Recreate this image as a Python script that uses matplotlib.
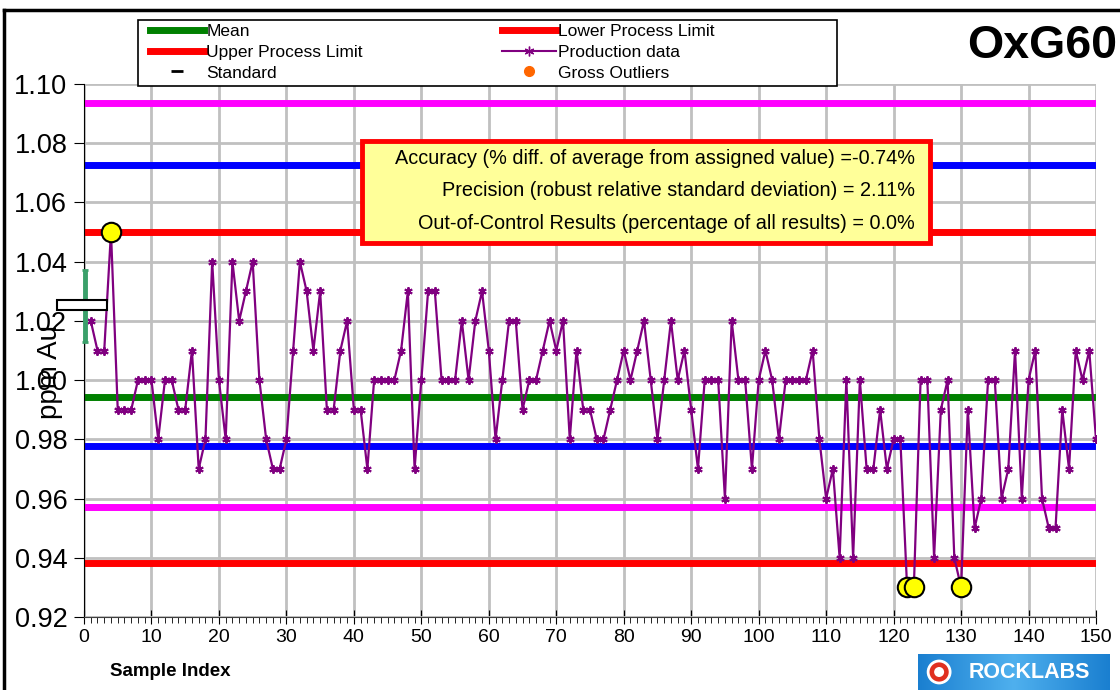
import matplotlib
matplotlib.use("Agg")
import matplotlib.pyplot as plt
from matplotlib.lines import Line2D
from matplotlib.patches import Rectangle, Ellipse
import numpy as np

plt.rcParams['font.family'] = ['Liberation Sans', 'DejaVu Sans']

# ---------------- data ----------------
production = [
    1.02, 1.01, 1.01, 1.05, 0.99, 0.99, 0.99, 1.00, 1.00, 1.00,
    0.98, 1.00, 1.00, 0.99, 0.99, 1.01, 0.97, 0.98, 1.04, 1.00,
    0.98, 1.04, 1.02, 1.03, 1.04, 1.00, 0.98, 0.97, 0.97, 0.98,
    1.01, 1.04, 1.03, 1.01, 1.03, 0.99, 0.99, 1.01, 1.02, 0.99,
    0.99, 0.97, 1.00, 1.00, 1.00, 1.00, 1.01, 1.03, 0.97, 1.00,
    1.03, 1.03, 1.00, 1.00, 1.00, 1.02, 1.00, 1.02, 1.03, 1.01,
    0.98, 1.00, 1.02, 1.02, 0.99, 1.00, 1.00, 1.01, 1.02, 1.01,
    1.02, 0.98, 1.01, 0.99, 0.99, 0.98, 0.98, 0.99, 1.00, 1.01,
    1.00, 1.01, 1.02, 1.00, 0.98, 1.00, 1.02, 1.00, 1.01, 0.99,
    0.97, 1.00, 1.00, 1.00, 0.96, 1.02, 1.00, 1.00, 0.97, 1.00,
    1.01, 1.00, 0.98, 1.00, 1.00, 1.00, 1.00, 1.01, 0.98, 0.96,
    0.97, 0.94, 1.00, 0.94, 1.00, 0.97, 0.97, 0.99, 0.97, 0.98,
    0.98, 0.93, 0.93, 1.00, 1.00, 0.94, 0.99, 1.00, 0.94, 0.93,
    0.99, 0.95, 0.96, 1.00, 1.00, 0.96, 0.97, 1.01, 0.96, 1.00,
    1.01, 0.96, 0.95, 0.95, 0.99, 0.97, 1.01, 1.00, 1.01, 0.98,
]
sample_index = list(range(1, len(production) + 1))

outlier_index = [4, 122, 123, 130]
outlier_values = [1.05, 0.93, 0.93, 0.93]

mean_value = 0.9943
upper_process_limit = 1.050
lower_process_limit = 0.9382
upper_3sd = 1.0936
lower_3sd = 0.9571
upper_2sd = 1.0727
lower_2sd = 0.9777

standard_value = 1.0255
standard_low = 1.0129
standard_high = 1.0372

stats_lines = [
    "Accuracy (% diff. of average from assigned value) =-0.74%",
    "Precision (robust relative standard deviation) = 2.11%",
    "Out-of-Control Results (percentage of all results) = 0.0%",
]

W, H = 1120, 690

def fx(px):
    return px / W

def fy(py):
    return 1 - py / H

# ---------------- figure ----------------
fig = plt.figure(figsize=(11.2, 6.9), dpi=100)
ax = fig.add_axes([fx(84), fy(617), (1096 - 84) / W, (617 - 84) / H])

ax.set_xlim(0, 150)
ax.set_ylim(0.92, 1.10)
ax.set_xticks(np.arange(0, 151, 10))
ax.set_xticks(np.arange(0, 151, 1), minor=True)
ax.set_yticks(np.arange(0.92, 1.1001, 0.02))
ax.yaxis.set_major_formatter(matplotlib.ticker.FormatStrFormatter('%.2f'))
ax.grid(True, which='major', color='#c0c0c0', linewidth=2)
ax.set_axisbelow(True)
for s in ['top', 'right']:
    ax.spines[s].set_visible(False)
ax.spines['left'].set_color('black')
ax.spines['bottom'].set_color('#404040')
ax.tick_params(axis='y', labelsize=19.5, direction='out', length=7, pad=5)
ax.tick_params(axis='x', which='major', labelsize=14, direction='inout', length=10)
ax.tick_params(axis='x', which='minor', direction='out', length=4)

lw = 5
ax.axhline(upper_3sd, color='#ff00ff', lw=lw, zorder=2)
ax.axhline(lower_3sd, color='#ff00ff', lw=lw, zorder=2)
ax.axhline(upper_2sd, color='#0000ff', lw=lw, zorder=2)
ax.axhline(lower_2sd, color='#0000ff', lw=lw, zorder=2)
ax.axhline(upper_process_limit, color='#ff0000', lw=lw, zorder=2)
ax.axhline(lower_process_limit, color='#ff0000', lw=lw, zorder=2)
ax.axhline(mean_value, color='#008000', lw=lw, zorder=2)

ax.plot(sample_index, production, color='#800080', lw=1.6,
        marker=(6, 2, 0), markersize=6, markeredgewidth=1.4, zorder=4)

ax.plot(outlier_index, outlier_values, linestyle='none', marker='o',
        markersize=14, markerfacecolor='#ffff00', markeredgecolor='black',
        markeredgewidth=1.5, zorder=5, clip_on=False)

# standard
ax.errorbar([0.2], [standard_value],
            yerr=[[standard_value - standard_low], [standard_high - standard_value]],
            fmt='none', ecolor='#3aa06a', elinewidth=3.5, capsize=2.5, capthick=2,
            zorder=5, clip_on=False)
rect_w, rect_h = 50 / 1012 * 150, 10 / 533 * 0.18
ax.add_patch(Rectangle((-0.3 - rect_w / 2, standard_value - rect_h / 2),
                       rect_w, rect_h, facecolor='white', edgecolor='black',
                       lw=1.5, zorder=6, clip_on=False))

ax.set_ylabel('ppm Au', fontsize=20)
ax.yaxis.set_label_coords(-0.021, 0.46)
ax.set_xlabel('Sample Index', fontsize=13.5, fontweight='bold')
ax.xaxis.set_label_coords(0.085, -0.087)

# stats box
fig.add_artist(Rectangle((fx(362), fy(243)), (930 - 362) / W, (243 - 141) / H,
                         transform=fig.transFigure, facecolor='#ffff99',
                         edgecolor='#ff0000', linewidth=3.5, zorder=7))
for i, line in enumerate(stats_lines):
    fig.text(fx(915), fy(159 + 32 * i), line, ha='right', va='center',
             fontsize=14.3, zorder=8)

# legend (frame drawn separately)
fig.add_artist(Rectangle((fx(138), fy(86)), (837 - 138) / W, (86 - 20) / H,
                         transform=fig.transFigure, facecolor='white',
                         edgecolor='black', linewidth=1.2, zorder=6))
handles = [
    Line2D([], [], color='#008000', lw=5),
    Line2D([], [], color='#ff0000', lw=5),
    Line2D([], [], color='black', marker='_', linestyle='none', markersize=8, markeredgewidth=2),
    Line2D([], [], color='#ff0000', lw=5),
    Line2D([], [], color='#800080', lw=1.5, marker=(6, 2, 0), markersize=7),
    Line2D([], [], color='#ff6600', marker='o', linestyle='none', markersize=7),
]
labels = ['Mean', 'Upper Process Limit', 'Standard',
          'Lower Process Limit', 'Production data', 'Gross Outliers']
leg = fig.legend(handles, labels, ncol=2, loc='upper left',
                 bbox_to_anchor=(fx(150), fy(24)), fontsize=12.5,
                 frameon=False, handlelength=3.1, handletextpad=0.15,
                 columnspacing=8.0, labelspacing=0.32, borderpad=0,
                 borderaxespad=0)
leg.set_zorder(7)

fig.text(fx(1117), fy(46), 'OxG60', fontsize=33.5, fontweight='bold',
         ha='right', va='center')

# figure border (top and left)
fig.add_artist(Line2D([fx(4), 1], [fy(10), fy(10)], color='black', lw=2.5,
                      transform=fig.transFigure))
fig.add_artist(Line2D([fx(4), fx(4)], [0, fy(10)], color='black', lw=2.5,
                      transform=fig.transFigure))

# logo
logo_ax = fig.add_axes([fx(918), 0, (1110 - 918) / W, 36 / H])
grad = np.linspace(0, 1, 256).reshape(1, -1)
logo_ax.imshow(np.vstack([grad, grad]), aspect='auto', extent=[0, 1, 0, 1],
               cmap=matplotlib.colors.LinearSegmentedColormap.from_list(
                   'lg', ['#1a7fd0', '#4fb0ee', '#1a7fd0']))
logo_ax.add_patch(Ellipse((0.11, 0.5), 22 / 192, 22 / 36,
                          facecolor='#e03020', edgecolor='white', lw=2))
logo_ax.add_patch(Ellipse((0.11, 0.5), 10 / 192, 10 / 36,
                          facecolor='white', edgecolor='none'))
logo_ax.text(0.58, 0.48, 'ROCKLABS', color='white', fontsize=15.5,
             fontweight='bold', ha='center', va='center')
logo_ax.set_xlim(0, 1)
logo_ax.set_ylim(0, 1)
logo_ax.axis('off')

fig.savefig('out.png', dpi=100)
